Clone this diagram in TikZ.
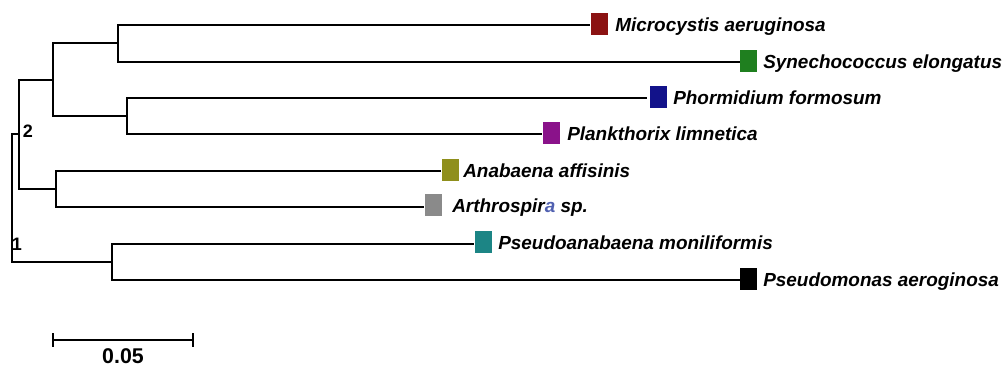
\documentclass[tikz,border=0pt]{standalone}
\usepackage{fontspec}
\setmainfont{Liberation Sans}
\definecolor{cMic}{HTML}{8B1212}
\definecolor{cSyn}{HTML}{1F7F1F}
\definecolor{cPho}{HTML}{12128A}
\definecolor{cPla}{HTML}{8A128A}
\definecolor{cAna}{HTML}{8F8F1C}
\definecolor{cArt}{HTML}{8A8A8A}
\definecolor{cPsa}{HTML}{1C8585}
\definecolor{cPsm}{HTML}{000000}
\definecolor{cArtA}{HTML}{5060B0}
\begin{document}
\begin{tikzpicture}[x=0.75pt,y=-0.75pt,
  branch/.style={line width=2pt,line join=miter,line cap=rect},
  tipbox/.style={draw=none,fill=#1,minimum width=12.75pt,minimum height=17pt,inner sep=0pt,anchor=west},
  taxon/.style={anchor=base west,inner sep=0pt,font=\fontsize{14.2}{16}\selectfont\bfseries\itshape},
  support/.style={inner sep=0pt,font=\fontsize{13.5}{15}\selectfont\bfseries},
  scalelbl/.style={inner sep=0pt,font=\fontsize{16}{18}\selectfont\bfseries}]
\useasboundingbox (0,0) rectangle (1007,369);
% leaves: boxes and names
\node[tipbox=cMic] (bMic) at (591,24) {};
\node[taxon] (tMic) at (615,31) {Microcystis aeruginosa};
\node[tipbox=cSyn] (bSyn) at (740,61) {};
\node[taxon] (tSyn) at (763,68) {Synechococcus elongatus};
\node[tipbox=cPho] (bPho) at (650,97) {};
\node[taxon] (tPho) at (673,104) {Phormidium formosum};
\node[tipbox=cPla] (bPla) at (543,133) {};
\node[taxon] (tPla) at (567,140) {Plankthorix limnetica};
\node[tipbox=cAna] (bAna) at (442,170) {};
\node[taxon] (tAna) at (463,177) {Anabaena affisinis};
\node[tipbox=cArt] (bArt) at (425,205) {};
\node[taxon] (tArt) at (452,212) {Arthrospir{\color{cArtA}a} sp.};
\node[tipbox=cPsa] (bPsa) at (475,242) {};
\node[taxon] (tPsa) at (498,249) {Pseudoanabaena moniliformis};
\node[tipbox=cPsm] (bPsm) at (740,279) {};
\node[taxon] (tPsm) at (763,286) {Pseudomonas aeroginosa};
% internal nodes
\coordinate (nA) at (118,43);
\coordinate (nB) at (127,116);
\coordinate (nAB) at (53,80);
\coordinate (nC) at (56,189);
\coordinate (n2) at (19,134);
\coordinate (nD) at (112,262);
\coordinate (n1) at (12,134);
% branches
\draw[branch] ([xshift=-2pt]bMic.west |- 0,25) -| (nA) |- ([xshift=-1pt]bSyn.west |- 0,62);
\draw[branch] ([xshift=-3pt]bPho.west |- 0,98) -| (nB) |- ([xshift=-2pt]bPla.west |- 0,134);
\draw[branch] ([xshift=-2pt]bAna.west |- 0,171) -| (nC) |- ([xshift=-2pt]bArt.west |- 0,207);
\draw[branch] ([xshift=-2pt]bPsa.west |- 0,244) -| (nD) |- ([xshift=-1pt]bPsm.west |- 0,280);
\draw[branch,line cap=butt] (nA) -| (nAB) |- (nB);
\draw[branch,line cap=butt] (nAB) -| (n2) |- (nC);
\draw[branch,line cap=butt] (n2) -| (n1) |- (nD);
% support labels
\node[support] (l2) at (28,131) {2};
\node[support] (l1) at (17,244) {1};
% scale bar
\coordinate (s1) at (53,340);
\coordinate (s2) at (193,340);
\draw[line width=2pt] (s1) -- (s2);
\draw[line width=1.6pt] ([yshift=5pt]s1) -- ([yshift=-5pt]s1);
\draw[line width=1.6pt] ([yshift=5pt]s2) -- ([yshift=-5pt]s2);
\node[scalelbl] (sl) at (123,356) {0.05};
\end{tikzpicture}
\end{document}
